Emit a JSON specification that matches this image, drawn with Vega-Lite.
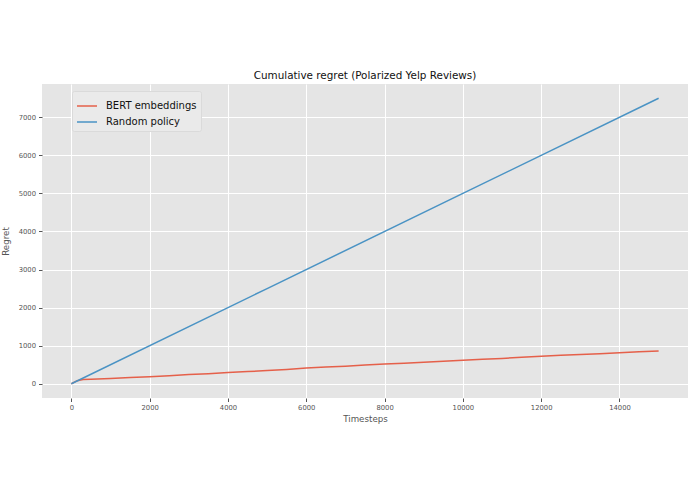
{
  "$schema": "https://vega.github.io/schema/vega-lite/v6.json",
  "autosize": "none",
  "padding": {"left": 42, "top": 84, "right": 7, "bottom": 96},
  "width": 646,
  "height": 314,
  "background": "white",
  "title": {
    "text": "Cumulative regret (Polarized Yelp Reviews)",
    "font": "DejaVu Sans",
    "fontSize": 10.4,
    "fontWeight": "normal",
    "color": "#111111",
    "anchor": "middle",
    "offset": 3
  },
  "config": {
    "view": {"fill": "#E5E5E5", "stroke": null},
    "axis": {
      "labelFont": "DejaVu Sans",
      "labelFontSize": 6.8,
      "labelColor": "#555555",
      "titleFont": "DejaVu Sans",
      "titleFontSize": 8.7,
      "titleFontWeight": "normal",
      "titleColor": "#555555",
      "gridColor": "#FFFFFF",
      "gridWidth": 1,
      "domain": false,
      "tickColor": "#555555",
      "tickSize": 3.5,
      "labelPadding": 3
    },
    "legend": {
      "labelFont": "DejaVu Sans",
      "labelFontSize": 10,
      "labelColor": "#111111"
    }
  },
  "data": {
    "values": [
      {"step": 0, "regret": 0, "series": "BERT embeddings"},
      {"step": 150, "regret": 80, "series": "BERT embeddings"},
      {"step": 300, "regret": 110, "series": "BERT embeddings"},
      {"step": 500, "regret": 120, "series": "BERT embeddings"},
      {"step": 1000, "regret": 140, "series": "BERT embeddings"},
      {"step": 1500, "regret": 165, "series": "BERT embeddings"},
      {"step": 2000, "regret": 185, "series": "BERT embeddings"},
      {"step": 2500, "regret": 210, "series": "BERT embeddings"},
      {"step": 3000, "regret": 240, "series": "BERT embeddings"},
      {"step": 3500, "regret": 265, "series": "BERT embeddings"},
      {"step": 4000, "regret": 295, "series": "BERT embeddings"},
      {"step": 4500, "regret": 320, "series": "BERT embeddings"},
      {"step": 5000, "regret": 345, "series": "BERT embeddings"},
      {"step": 5500, "regret": 375, "series": "BERT embeddings"},
      {"step": 6000, "regret": 415, "series": "BERT embeddings"},
      {"step": 6500, "regret": 440, "series": "BERT embeddings"},
      {"step": 7000, "regret": 460, "series": "BERT embeddings"},
      {"step": 7500, "regret": 490, "series": "BERT embeddings"},
      {"step": 8000, "regret": 520, "series": "BERT embeddings"},
      {"step": 8500, "regret": 540, "series": "BERT embeddings"},
      {"step": 9000, "regret": 565, "series": "BERT embeddings"},
      {"step": 9500, "regret": 590, "series": "BERT embeddings"},
      {"step": 10000, "regret": 615, "series": "BERT embeddings"},
      {"step": 10500, "regret": 640, "series": "BERT embeddings"},
      {"step": 11000, "regret": 665, "series": "BERT embeddings"},
      {"step": 11500, "regret": 695, "series": "BERT embeddings"},
      {"step": 12000, "regret": 725, "series": "BERT embeddings"},
      {"step": 12500, "regret": 745, "series": "BERT embeddings"},
      {"step": 13000, "regret": 770, "series": "BERT embeddings"},
      {"step": 13500, "regret": 790, "series": "BERT embeddings"},
      {"step": 14000, "regret": 815, "series": "BERT embeddings"},
      {"step": 14500, "regret": 840, "series": "BERT embeddings"},
      {"step": 15000, "regret": 860, "series": "BERT embeddings"},
      {"step": 0, "regret": 0, "series": "Random policy"},
      {"step": 5000, "regret": 2500, "series": "Random policy"},
      {"step": 10000, "regret": 5000, "series": "Random policy"},
      {"step": 15000, "regret": 7500, "series": "Random policy"}
    ]
  },
  "mark": {"type": "line", "strokeWidth": 1.5},
  "encoding": {
    "x": {
      "field": "step",
      "type": "quantitative",
      "title": "Timesteps",
      "scale": {"domain": [-750, 15750], "nice": false, "zero": false},
      "axis": {"values": [0, 2000, 4000, 6000, 8000, 10000, 12000, 14000], "format": "d", "titlePadding": 3}
    },
    "y": {
      "field": "regret",
      "type": "quantitative",
      "title": "Regret",
      "scale": {"domain": [-375, 7875], "nice": false, "zero": false},
      "axis": {"values": [0, 1000, 2000, 3000, 4000, 5000, 6000, 7000], "format": "d", "titlePadding": 8}
    },
    "color": {
      "field": "series",
      "type": "nominal",
      "scale": {"domain": ["BERT embeddings", "Random policy"], "range": ["#E5604A", "#4A93C4"]},
      "legend": {
        "title": null,
        "orient": "none",
        "legendX": 30,
        "legendY": 7,
        "symbolType": "stroke",
        "symbolSize": 400,
        "symbolStrokeWidth": 1.5,
        "labelOffset": 8,
        "padding": 4,
        "rowPadding": -9,
        "fillColor": "#EAEAEA",
        "strokeColor": "#DADADA",
        "cornerRadius": 2
      }
    }
  }
}
